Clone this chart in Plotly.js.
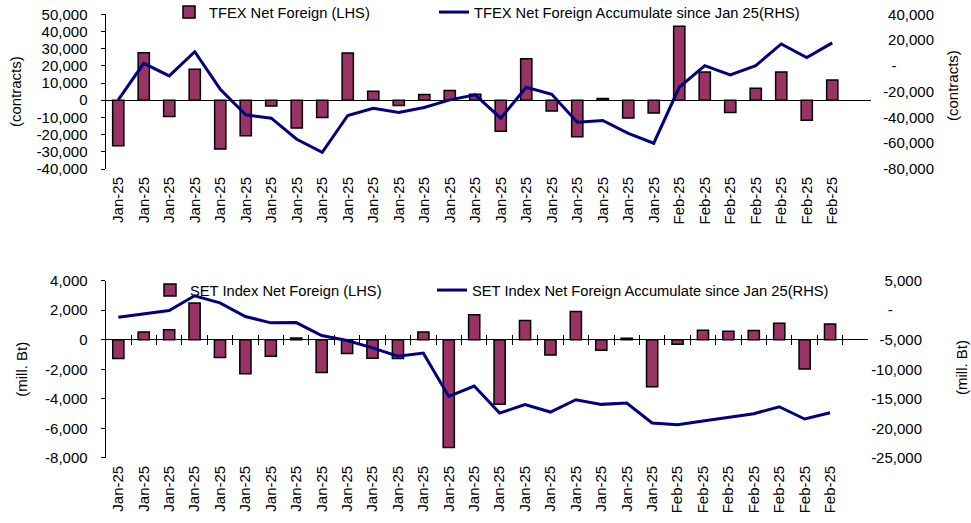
<!DOCTYPE html>
<html><head><meta charset="utf-8">
<script src="https://cdn.plot.ly/plotly-3.0.1.min.js"></script>
<style>html,body{margin:0;padding:0;background:#fff}</style>
</head><body><div id="chart" style="width:971px;height:523px"></div>
<script>
// ---------- data ----------
const dates = ["Jan-25","Jan-25","Jan-25","Jan-25","Jan-25","Jan-25","Jan-25","Jan-25","Jan-25","Jan-25","Jan-25",
               "Jan-25","Jan-25","Jan-25","Jan-25","Jan-25","Jan-25","Jan-25","Jan-25","Jan-25","Jan-25","Jan-25",
               "Feb-25","Feb-25","Feb-25","Feb-25","Feb-25","Feb-25","Feb-25"];
const tfexNet = [-26500, 27700, -9500, 18000, -28300, -20700, -3300, -16100, -10100, 27500, 5200, -3100, 3300, 5600, 3500,
                 -18000, 24200, -6200, -21300, 1000, -10300, -7400, 43000, 16500, -7200, 7000, 16500, -11600, 11800];
const tfexAccum = [-26400, 2000, -7800, 11000, -18100, -38000, -40600, -56900, -67000, -38500, -32900, -36200, -32300, -26400, -22500,
                   -40600, -16600, -22000, -43700, -42400, -52300, -60000, -16600, 200, -7000, 200, 17000, 6500, 17800];
const setNet = [-1280, 520, 670, 2490, -1210, -2310, -1120, 110, -2220, -940, -1260, -1280, 520, -7300, 1690,
                -4380, 1300, -1030, 1910, -720, 100, -3190, -310, 650, 580, 630, 1120, -1980, 1060];
const setAccum = [-1200, -680, -60, 2450, 1240, -1070, -2140, -2090, -4280, -5130, -6370, -7780, -7270, -14600, -12850,
                  -17420, -16000, -17250, -15160, -15950, -15730, -19110, -19390, -18770, -18150, -17530, -16350, -18430, -17360];

const tfexLeftVals = [-40000,-30000,-20000,-10000,0,10000,20000,30000,40000,50000];
const tfexLeftText = ["-40,000","-30,000","-20,000","-10,000","0","10,000","20,000","30,000","40,000","50,000"];
const tfexRightVals = [-80000,-60000,-40000,-20000,0,20000,40000];
const tfexRightText = ["-80,000","-60,000","-40,000","-20,000","-\u00a0\u00a0\u00a0\u00a0\u00a0\u00a0\u00a0\u00a0\u00a0","20,000","40,000"];
const setLeftVals = [-8000,-6000,-4000,-2000,0,2000,4000];
const setLeftText = ["-8,000","-6,000","-4,000","-2,000","0","2,000","4,000"];
const setRightVals = [-25000,-20000,-15000,-10000,-5000,0,5000];
const setRightText = ["-25,000","-20,000","-15,000","-10,000","-5,000","-\u00a0\u00a0\u00a0\u00a0\u00a0\u00a0\u00a0","5,000"];

const barName1 = "TFEX Net Foreign (LHS)";
const lineName1 = "TFEX Net Foreign Accumulate since Jan 25(RHS)";
const barName2 = "SET Index Net Foreign (LHS)";
const lineName2 = "SET Index Net Foreign Accumulate since Jan 25(RHS)";
const unit1 = "(contracts)";
const unit2 = "(mill. Bt)";

// ---------- layout helpers ----------
const W = 971, H = 523;
const px = v => v / W;
const py = v => 1 - v / H;
const idx = dates.map((_, i) => i);
const bounds = dates.map((_, i) => i + 0.5);
const xr = [-0.5, 29.5];

const topX = [px(105.5), px(870.5)];
const topY = [py(169), py(14.3)];
const botX = [px(105.6), px(868.2)];
const botY = [py(457.8), py(280.7)];
const tl = [-40000, 50000], tr = [-80000, 40000];
const bl = [-8000, 4000], br = [-25000, 5000];
const zeroBot = botY[0] + (0 - bl[0]) / (bl[1] - bl[0]) * (botY[1] - botY[0]);

const BAR = '#993366', LINE = '#000080';
const FONT = 'Liberation Sans, Arial, sans-serif';

const traces = [
  {type:'bar', x: idx, y: tfexNet, name: barName1, xaxis:'x', yaxis:'y', legend:'legend',
   marker:{color:BAR, line:{color:'#000', width:1.5}}, width:0.44},
  {type:'scatter', mode:'lines', x: idx, y: tfexAccum, name: lineName1, xaxis:'x', yaxis:'y5', legend:'legend3',
   line:{color:LINE, width:3}},
  {type:'bar', x: idx, y: setNet, name: barName2, xaxis:'x2', yaxis:'y6', legend:'legend2',
   marker:{color:BAR, line:{color:'#000', width:1.5}}, width:0.44},
  {type:'scatter', mode:'lines', x: idx, y: setAccum, name: lineName2, xaxis:'x3', yaxis:'y10', legend:'legend4',
   line:{color:LINE, width:3}}
];

const tickF = {size:15, color:'#000', family:FONT};
const base = {showgrid:false, zeroline:false, fixedrange:true};
const catAxis = (dom, anchor) => Object.assign({}, base, {domain:dom, anchor, range:xr, tickmode:'array',
  tickvals: idx, ticktext: dates, tickangle:-90, ticks:'', showline:false, tickfont:tickF, ticklabelstandoff:4});
const valAxis = (extra) => Object.assign({}, base, {tickmode:'array', linecolor:'#000', linewidth:1,
  tickcolor:'#000', tickwidth:1, ticklen:4, tickfont:tickF}, extra);
const leg = (x, y) => ({orientation:'h', x, y, xanchor:'left', yanchor:'top', font:{size:14.7}, bgcolor:'rgba(0,0,0,0)'});

const layout = {
  width:W, height:H, margin:{l:0,r:0,t:0,b:0,autoexpand:false}, paper_bgcolor:'#fff', plot_bgcolor:'rgba(0,0,0,0)',
  font:{family:FONT, color:'#000', size:15}, showlegend:true,
  xaxis: catAxis(topX, 'y'),
  yaxis: valAxis({domain:topY, anchor:'x', range:tl, tickvals:tfexLeftVals, ticktext:tfexLeftText,
    ticks:'outside', showline:true, zeroline:true, zerolinecolor:'#000', zerolinewidth:1,
    ticklabelstandoff:10, title:{text:unit1, font:{size:15}, standoff:11}}),
  yaxis3: valAxis({overlaying:'y', anchor:'x', side:'left', range:tl, tickvals:tfexLeftVals, ticks:'inside', showticklabels:false}),
  yaxis2: valAxis({overlaying:'y', anchor:'x', side:'right', range:tr, tickvals:tfexRightVals, ticks:'outside', showline:true, showticklabels:false}),
  yaxis4: valAxis({overlaying:'y', anchor:'x', side:'right', range:tr, tickvals:tfexRightVals, ticks:'inside', showticklabels:false}),
  yaxis5: valAxis({overlaying:'y', anchor:'free', position:px(934), side:'left', range:tr, tickvals:tfexRightVals,
    ticktext:tfexRightText, ticks:'', showline:false, ticklabelstandoff:0}),

  xaxis2: catAxis(botX, 'y6'),
  xaxis3: Object.assign({}, base, {overlaying:'x2', anchor:'free', position:zeroBot - 5 / H, side:'top', range:xr,
    tickmode:'array', tickvals:bounds, ticks:'outside', ticklen:10, tickcolor:'#000', tickwidth:1, showline:false, showticklabels:false}),
  yaxis6: valAxis({domain:botY, anchor:'x2', range:bl, tickvals:setLeftVals, ticktext:setLeftText,
    ticks:'outside', showline:true, zeroline:true, zerolinecolor:'#000', zerolinewidth:1,
    ticklabelstandoff:10, title:{text:unit2, font:{size:15}, standoff:13}}),
  yaxis8: valAxis({overlaying:'y6', anchor:'x2', side:'left', range:bl, tickvals:setLeftVals, ticks:'inside', showticklabels:false}),
  yaxis7: valAxis({overlaying:'y6', anchor:'x2', side:'right', range:br, tickvals:setRightVals, ticks:'outside', showline:true, showticklabels:false}),
  yaxis9: valAxis({overlaying:'y6', anchor:'x2', side:'right', range:br, tickvals:setRightVals, ticks:'inside', showticklabels:false}),
  yaxis10: valAxis({overlaying:'y6', anchor:'free', position:px(922), side:'left', range:br, tickvals:setRightVals,
    ticktext:setRightText, ticks:'', showline:false, ticklabelstandoff:0}),

  legend: leg(px(169), 1 + 4 / H),
  legend3: leg(px(434), 1 + 4 / H),
  legend2: leg(px(150), py(274)),
  legend4: leg(px(432), py(274)),
  annotations: [
    {text:unit1, xref:'paper', yref:'paper', x:px(953), y:py(86), textangle:-90, showarrow:false, font:{size:15}, xanchor:'center', yanchor:'middle'},
    {text:unit2, xref:'paper', yref:'paper', x:px(961), y:py(368), textangle:-90, showarrow:false, font:{size:15}, xanchor:'center', yanchor:'middle'}
  ]
};

Plotly.newPlot('chart', traces, layout, {staticPlot:true, displayModeBar:false});
</script></body></html>
